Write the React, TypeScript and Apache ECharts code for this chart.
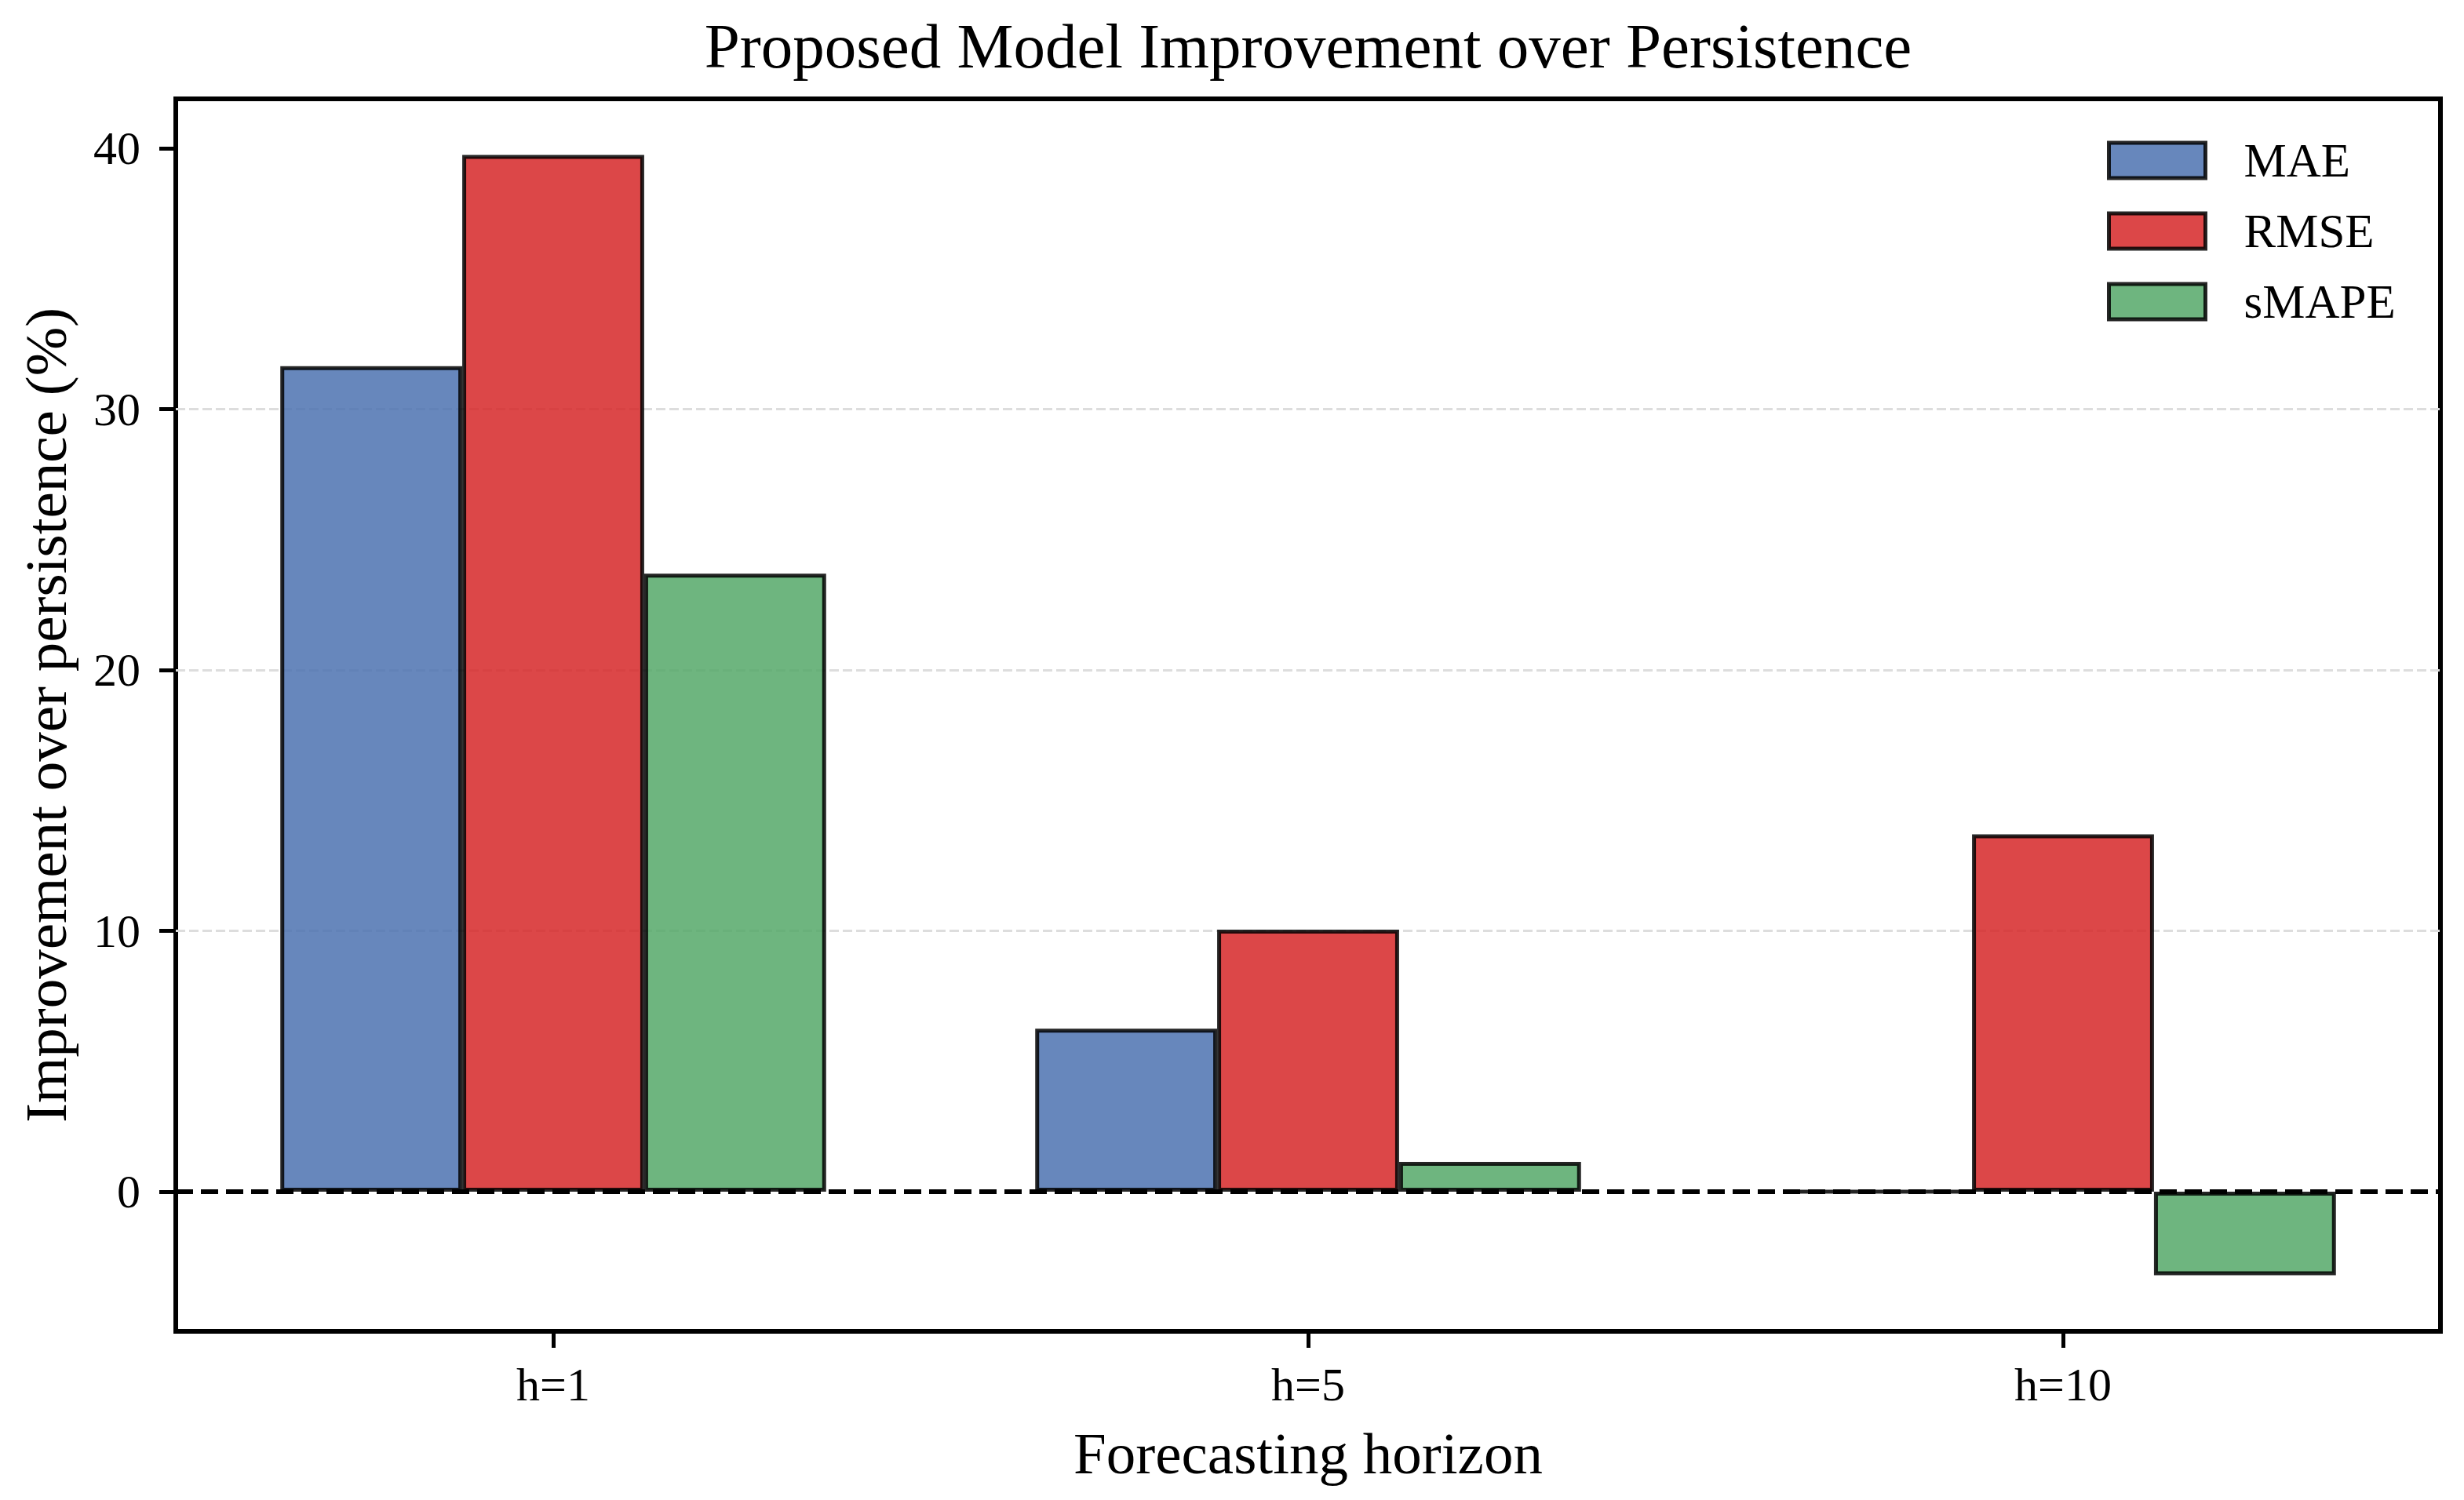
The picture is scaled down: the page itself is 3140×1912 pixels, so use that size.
import React, { useEffect, useRef } from "react";
import * as echarts from "echarts";

const categories = ["h=1", "h=5", "h=10"];
const seriesNames = ["MAE", "RMSE", "sMAPE"];
const maeValues = [31.65, 6.25, 0.0];
const rmseValues = [39.75, 10.05, 13.7];
const smapeValues = [23.7, 1.15, -3.2];
const yTicks = [0, 10, 20, 30, 40];
const colors = ["#4C72B0", "#D62728", "#55A868"];

const FONT = '"Liberation Serif", "Times New Roman", serif';

const App: React.FC = () => {
  const chartRef = useRef<HTMLDivElement>(null);

  useEffect(() => {
    if (!chartRef.current) return;
    const chart = echarts.init(chartRef.current, undefined, { renderer: "svg" });

    const values = [maeValues, rmseValues, smapeValues];

    const option = {
      animation: false,
      backgroundColor: "#fff",
      grid: {
        left: 224,
        right: 30,
        top: 126,
        bottom: 215,
        show: true,
        borderColor: "#000",
        borderWidth: 6,
        backgroundColor: "transparent",
      },
      graphic: [
        {
          type: "text",
          x: 1667,
          y: 18,
          style: {
            text: "Proposed Model Improvement over Persistence",
            fill: "#000",
            fontSize: 81,
            fontFamily: FONT,
            align: "center",
            verticalAlign: "top",
          },
        },
      ],
      legend: {
        data: seriesNames,
        orient: "vertical",
        left: 2680,
        top: 169,
        icon: "rect",
        itemWidth: 123,
        itemHeight: 45,
        itemGap: 29,
        itemStyle: { borderColor: "#000", borderWidth: 5, opacity: 0.85 },
        textStyle: {
          fontSize: 61,
          lineHeight: 45,
          fontFamily: FONT,
          color: "#000",
          padding: [0, 0, 0, 44],
        },
      },
      xAxis: {
        type: "category",
        data: categories,
        boundaryGap: true,
        axisLine: { show: false, onZero: false },
        axisTick: {
          show: true,
          alignWithLabel: true,
          length: 21,
          lineStyle: { color: "#000", width: 5 },
        },
        axisLabel: { fontSize: 60, fontFamily: FONT, color: "#000", margin: 38 },
        splitLine: { show: false },
        name: "Forecasting horizon",
        nameLocation: "middle",
        nameGap: 118,
        nameTextStyle: { fontSize: 75, fontFamily: FONT, color: "#000" },
      },
      yAxis: {
        type: "value",
        min: -5.35,
        max: 41.9,
        splitNumber: 5,
        axisLine: { show: false },
        axisTick: {
          show: true,
          length: 21,
          customValues: yTicks,
          lineStyle: { color: "#000", width: 5 },
        },
        axisLabel: {
          customValues: yTicks,
          fontSize: 60,
          fontFamily: FONT,
          color: "#000",
          margin: 45,
        },
        splitLine: {
          show: true,
          showMinLine: false,
          showMaxLine: false,
          lineStyle: { color: "#dddddd", width: 3, type: [12, 5] },
        },
        name: "Improvement over persistence (%)",
        nameLocation: "middle",
        nameGap: 128,
        nameTextStyle: { fontSize: 75, fontFamily: FONT, color: "#000" },
      },
      series: seriesNames.map((name, i) => ({
        name,
        type: "bar",
        data: values[i],
        barWidth: "24.1%",
        barGap: "0%",
        itemStyle: {
          color: colors[i],
          borderColor: "#000",
          borderWidth: 5,
          opacity: 0.85,
        },
        emphasis: { disabled: true },
        markLine:
          i === seriesNames.length - 1
            ? {
                silent: true,
                symbol: ["none", "none"],
                label: { show: false },
                lineStyle: { color: "#000", width: 6, type: [22, 10], opacity: 1 },
                data: [{ yAxis: 0 }],
              }
            : undefined,
      })),
    };

    chart.setOption(option);

    return () => {
      chart.dispose();
    };
  }, []);

  return (
    <div
      ref={chartRef}
      style={{ position: "fixed", left: 0, top: 0, width: 3140, height: 1912 }}
    />
  );
};

export default App;
